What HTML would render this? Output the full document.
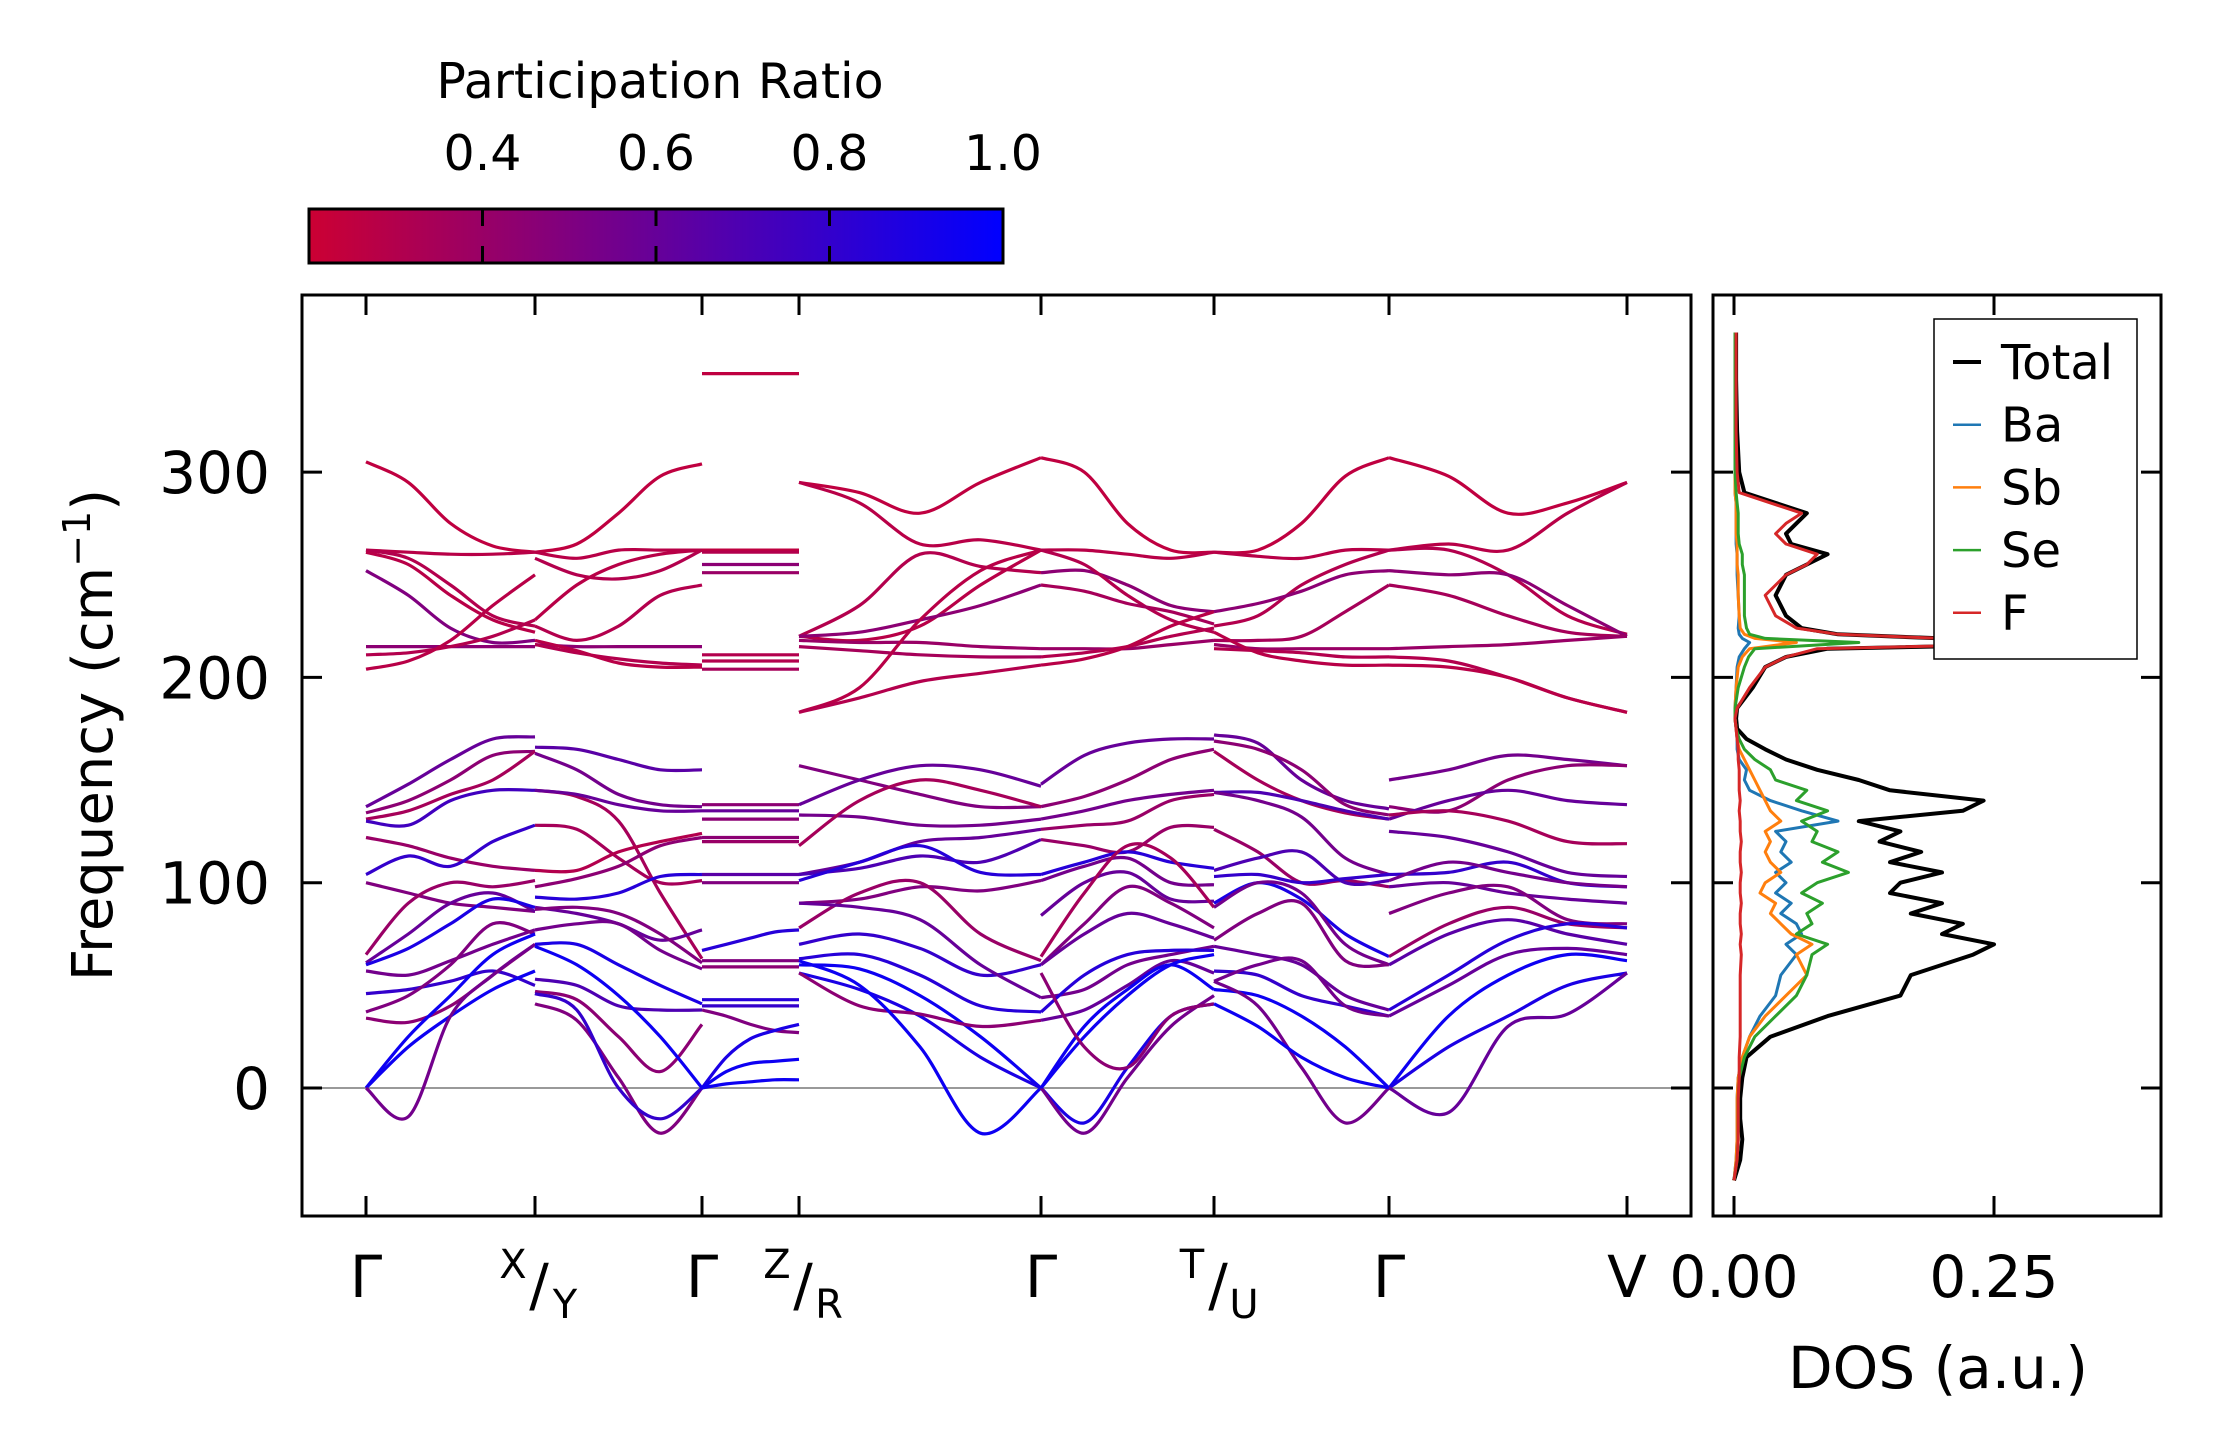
<!DOCTYPE html>
<html><head><meta charset="utf-8"><style>
html,body{margin:0;padding:0;background:#fff}
svg{display:block;font-family:"DejaVu Sans","Liberation Sans",sans-serif}
</style></head><body>
<svg id="fig" width="2222" height="1455" viewBox="0 0 2222 1455" xmlns="http://www.w3.org/2000/svg">
<defs>
<linearGradient id="cmap" x1="0" x2="1" y1="0" y2="0">
<stop offset="0" stop-color="#cc0033"/><stop offset="1" stop-color="#0000ff"/>
</linearGradient>
<clipPath id="mainclip"><rect x="302" y="295" width="1389" height="921"/></clipPath>
<clipPath id="dosclip"><rect x="1713" y="295" width="448" height="921"/></clipPath>
</defs>
<g id="colorbar">
<text x="660" y="98" font-size="49" text-anchor="middle">Participation Ratio</text>
<rect x="309" y="209" width="694" height="54" fill="url(#cmap)" stroke="#000" stroke-width="3"/>
</g>
<g id="main"></g>
<g id="dos"></g>
</svg>
<script>
// ---- band structure data ----
const kTicks = [366,535,702,799,1041,1214,1389,1627];
const kLabels = ["Γ","X/Y","Γ","Z/R","Γ","T/U","Γ","V"];
const yTicks = [0,100,200,300];
const cbTicks = [0.4,0.6,0.8,1.0];
const segBounds = [[366,535],[535,702],[702,799],[799,1041],[1041,1214],[1214,1389],[1389,1627]];

const seg1Freq = [[305,295,275,264,261],[262,261,260,260,261],[262,258,245,230,225],[261,255,240,228,222],[252,240,224,217,218],[215,215,215,215,215],[211,212,215,220,228],[204,208,218,235,250],
[137,148,160,170,171],[134,140,150,162,164],[131,135,143,150,164],[130,128,140,145,145],[122,118,112,108,106],[104,113,108,120,128],[100,95,90,88,86],[65,90,100,98,101],[61,75,90,95,86],[60,68,80,92,88],[57,55,62,70,77],[46,48,52,57,50],[37,45,60,80,75],[34,32,40,55,70],[0,25,45,65,75],[0,20,35,48,57],[0,-14,35,55,70]];
const seg1PR = [.25,.28,.3,.28,.5,.45,.3,.28,.6,.45,.35,.75,.4,.8,.5,.4,.6,.9,.55,.8,.5,.45,.95,.95,.55];

const seg2Freq = [[261,265,280,298,304],[261,258,262,262,262],[258,250,248,252,262],[228,245,255,260,262],[225,218,225,240,245],[216,215,215,215,215],[216,212,209,207,206],[218,213,207,205,205],
[166,165,160,155,155],[163,155,143,138,137],[145,142,130,95,63],[145,143,138,135,135],[128,126,112,100,101],[106,106,115,120,124],[98,102,108,118,122],[93,92,95,103,104],[88,85,80,72,77],[87,88,85,75,61],[77,80,80,67,58],[70,70,60,50,41],[53,50,40,38,38],[47,43,25,8,31],[41,33,5,-22,0],[46,38,0,-15,0],[69,60,45,25,0]];
const seg2PR = [.25,.28,.3,.28,.3,.45,.3,.28,.65,.55,.35,.6,.35,.3,.45,.85,.6,.5,.55,.9,.7,.45,.5,.8,.95];

const seg3Freq = [[348,348,348,348,348],[262,262,262,262,262],[261,261,261,261,261],[255,255,255,255,255],[251,251,251,251,251],[211,211,211,211,211],[208,208,208,208,208],[204,204,204,204,204],
[138,138,138,138,138],[135,135,135,135,135],[131,131,131,131,131],[122,122,122,122,122],[120,120,120,120,120],[104,104,104,104,104],[100,100,100,100,100],[67,70,73,76,77],[62,62,62,62,62],[59,59,59,59,59],[43,43,43,43,43],[40,40,40,40,40],[38,35,31,28,27],[0,15,24,28,31],[0,8,12,13,14],[0,2,3,4,4]];
const seg3PR = [.25,.25,.3,.45,.4,.3,.3,.35,.45,.6,.45,.45,.4,.65,.5,.85,.5,.45,.85,.8,.5,.9,.95,.95];

const seg4Freq = [[295,290,280,295,307],[295,285,265,267,262],[220,235,260,254,251],[220,218,225,245,262],[220,222,228,235,245],[218,217,217,215,214],[215,213,211,210,210],[183,195,228,252,262],[183,190,198,202,206],
[157,150,143,137,137],[138,150,157,155,147],[133,132,128,128,131],[118,140,150,145,137],[104,110,120,122,126],[104,107,113,110,121],[101,110,118,105,104],[90,92,98,96,101],[78,95,100,75,62],[70,75,68,55,60],[63,65,55,40,37],[60,58,45,25,0],[56,48,35,15,0],[56,40,36,30,33],[90,88,82,60,44],[62,50,20,-22,0]];
const seg4PR = [.25,.28,.3,.28,.45,.4,.35,.28,.3,.5,.6,.55,.35,.6,.7,.85,.5,.4,.8,.85,.95,.9,.45,.6,.95];

const seg5Freq = [[307,300,275,262,261],[262,262,260,258,261],[251,252,245,235,232],[262,255,240,228,222],[245,242,236,232,226],[214,214,214,216,218],[210,212,215,220,224],[206,209,215,225,232],
[148,162,168,170,170],[137,142,150,160,165],[131,135,140,143,145],[126,128,130,140,143],[121,118,115,127,127],[104,110,115,110,107],[101,108,112,100,99],[84,100,105,92,91],[64,95,118,112,88],[60,80,98,90,78],[60,75,85,80,73],[44,48,60,65,69],[37,55,65,67,67],[33,38,50,62,56],[0,30,48,60,48],[0,-17,10,35,41],[0,-22,5,30,45],[0,25,45,60,65],[56,20,10,35,41]];
const seg5PR = [.25,.28,.45,.3,.35,.4,.3,.28,.6,.45,.55,.4,.4,.85,.55,.6,.35,.5,.6,.55,.85,.6,.95,.9,.55,.95,.45];

const seg6Freq = [[261,262,275,298,307],[261,259,258,262,262],[225,230,245,255,262],[232,236,242,250,252],[218,218,220,232,245],[216,214,214,214,214],[214,213,212,210,210],[222,212,208,206,206],
[172,168,150,140,136],[169,165,155,138,133],[164,150,140,134,131],[144,144,140,135,131],[144,140,132,112,104],[126,115,100,101,98],[106,112,115,100,101],[103,104,100,102,104],[90,100,92,75,64],[88,100,95,70,60],[72,85,90,62,60],[69,65,60,45,38],[57,55,45,40,35],[52,60,62,40,35],[48,45,35,20,0],[52,40,10,-17,0],[41,30,15,5,0]];
const seg6PR = [.25,.28,.3,.45,.35,.4,.3,.28,.6,.45,.35,.7,.55,.4,.7,.8,.9,.55,.5,.6,.8,.55,.95,.55,.95];

const seg7Freq = [[307,298,280,285,295],[262,265,262,280,295],[262,262,250,230,221],[252,250,250,235,220],[245,240,230,222,220],[214,215,216,218,220],[210,208,200,190,183],[206,205,200,190,183],
[150,155,162,160,157],[137,135,150,157,157],[131,140,145,140,138],[133,135,130,120,119],[125,122,115,105,103],[104,105,110,100,98],[101,110,105,100,98],[98,100,95,92,90],[85,95,98,82,80],[64,80,88,80,78],[60,75,82,75,70],[38,55,72,80,78],[35,50,65,68,65],[0,35,55,65,62],[0,20,35,50,56],[0,-12,30,36,56]];
const seg7PR = [.25,.28,.3,.45,.35,.4,.3,.28,.55,.45,.6,.35,.6,.8,.55,.6,.5,.4,.65,.85,.6,.95,.9,.6];

const segFreqs = [seg1Freq,seg2Freq,seg3Freq,seg4Freq,seg5Freq,seg6Freq,seg7Freq];
const segPRs = [seg1PR,seg2PR,seg3PR,seg4PR,seg5PR,seg6PR,seg7PR];

// ---- DOS data ----
const dosFreq  = [-45,-35,-25,-15,-5,5,15,25,35,45,55,65,70,75,80,85,90,95,100,105,110,115,120,125,130,135,140,145,150,155,160,165,170,175,180,185,195,205,210,214,217,219,221,224,230,240,250,255,260,265,270,275,280,285,290,300,320,345,368];
const dosTotal = [0,.006,.008,.006,.006,.008,.012,.035,.09,.16,.17,.23,.25,.2,.22,.17,.2,.15,.16,.2,.15,.18,.14,.16,.12,.22,.24,.15,.12,.08,.05,.03,.012,.003,.002,.003,.018,.03,.05,.09,.38,.2,.1,.065,.05,.04,.05,.07,.09,.055,.05,.06,.07,.04,.01,.005,.003,.002,.002];
const dosBa    = [0,.002,.003,.003,.003,.004,.008,.015,.025,.04,.045,.06,.05,.065,.06,.045,.055,.04,.05,.04,.055,.045,.05,.04,.1,.065,.035,.015,.01,.012,.005,.003,.003,.002,.001,.001,.002,.003,.005,.01,.015,.008,.005,.004,.005,.004,.003,.003,.003,.002,.002,.002,.002,.002,.001,.001,.001,.001,.001];
const dosSb    = [0,.002,.003,.003,.003,.004,.008,.015,.03,.05,.07,.06,.075,.055,.045,.035,.04,.025,.03,.045,.035,.03,.035,.03,.045,.035,.03,.025,.02,.015,.01,.005,.003,.002,.001,.001,.002,.004,.008,.015,.06,.02,.01,.006,.005,.004,.004,.003,.003,.003,.002,.002,.002,.002,.001,.001,.001,.001,.001];
const dosSe    = [0,.003,.004,.004,.004,.005,.01,.02,.04,.06,.07,.075,.09,.06,.075,.07,.085,.065,.08,.11,.085,.1,.075,.08,.065,.09,.06,.07,.04,.035,.02,.01,.005,.002,.001,.001,.004,.01,.014,.02,.12,.03,.015,.012,.01,.01,.01,.008,.008,.005,.004,.004,.004,.003,.002,.001,.001,.001,.001];
const dosF     = [0,.003,.004,.004,.004,.005,.005,.006,.006,.006,.006,.007,.006,.007,.006,.006,.007,.006,.006,.007,.006,.006,.007,.006,.006,.005,.006,.005,.005,.005,.004,.004,.003,.002,.001,.003,.015,.03,.05,.08,.35,.2,.1,.06,.04,.03,.05,.07,.08,.05,.04,.05,.065,.035,.005,.003,.002,.002,.002];
const dosTicks = [0,0.25];
const dosTickLabels = ["0.00","0.25"];
const legendNames = ["Total","Ba","Sb","Se","F"];
const legendColors = ["#000000","#1f77b4","#ff7f0e","#2ca02c","#d62728"];

// ---- axes ----
const NS = "http://www.w3.org/2000/svg";
const AX = {l:302, r:1691, t:295, b:1216};
const DX = {l:1713, r:2161, t:295, b:1216};
const yOf = f => 1088 - f*2.053;
const dosX = d => 1734 + d*1040;
const cbX = v => 309 + (v-0.2)/0.8*694;
function prColor(p){const t=Math.max(0,Math.min(1,(p-0.2)/0.8));return `rgb(${Math.round(204*(1-t))},0,${Math.round(51+204*t)})`;}
function el(tag, attrs, parent){const e=document.createElementNS(NS,tag);for(const k in attrs)e.setAttribute(k,attrs[k]);parent.appendChild(e);return e;}
function catmull(pts){let d=`M${pts[0][0].toFixed(1)},${pts[0][1].toFixed(1)}`;
  for(let i=0;i<pts.length-1;i++){const p0=pts[Math.max(0,i-1)],p1=pts[i],p2=pts[i+1],p3=pts[Math.min(pts.length-1,i+2)];
    const c1=[p1[0]+(p2[0]-p0[0])/6,p1[1]+(p2[1]-p0[1])/6],c2=[p2[0]-(p3[0]-p1[0])/6,p2[1]-(p3[1]-p1[1])/6];
    d+=`C${c1[0].toFixed(1)},${c1[1].toFixed(1)} ${c2[0].toFixed(1)},${c2[1].toFixed(1)} ${p2[0].toFixed(1)},${p2[1].toFixed(1)}`;}
  return d;}

const main = document.getElementById('main');
const dos = document.getElementById('dos');
const cb = document.getElementById('colorbar');

// colorbar ticks & labels
cbTicks.forEach(v=>{
  if(v<1){
    const t1=el('line',{x1:cbX(v),x2:cbX(v),y1:209,y2:226,stroke:'#000','stroke-width':3},cb);
    
    
    const t2=el('line',{x1:cbX(v),x2:cbX(v),y1:246,y2:263,stroke:'#000','stroke-width':3},cb);
    
    
  }
  const tx=el('text',{x:cbX(v),y:170,'font-size':49,'text-anchor':'middle'},cb);
  tx.textContent=v.toFixed(1);
  
  
});

// zero line
const z=el('line',{x1:AX.l,x2:AX.r,y1:yOf(0),y2:yOf(0),stroke:'#999','stroke-width':2},main);



// bands
const bandG=el('g',{'clip-path':'url(#mainclip)',fill:'none','stroke-width':3.2},main);


segFreqs.forEach((seg,si)=>{
  const [x0,x1]=segBounds[si];
  seg.forEach((vals,bi)=>{
    const n=vals.length;
    const pts=vals.map((f,i)=>[x0+(x1-x0)*i/(n-1), yOf(f)]);
    const p=el('path',{d:catmull(pts),stroke:prColor(segPRs[si][bi])},bandG);
    
    
  });
});

// main frame
const fr=el('rect',{x:AX.l,y:AX.t,width:AX.r-AX.l,height:AX.b-AX.t,fill:'none',stroke:'#000','stroke-width':3},main);



// y ticks
yTicks.forEach(v=>{
  const y=yOf(v);
  [[AX.l,AX.l+20,main],[AX.r-20,AX.r,main],[DX.l,DX.l+20,dos],[DX.r-20,DX.r,dos]].forEach(([a,b,g])=>{
    const t=el('line',{x1:a,x2:b,y1:y,y2:y,stroke:'#000','stroke-width':3},g);
    
    
  });
  const tx=el('text',{x:270,y:y+21,'font-size':58,'text-anchor':'end'},main);
  tx.textContent=String(v);
  
  
});

// x ticks & labels
kTicks.forEach((x,i)=>{
  [[AX.t,AX.t+20],[AX.b-20,AX.b]].forEach(([a,b])=>{
    const t=el('line',{x1:x,x2:x,y1:a,y2:b,stroke:'#000','stroke-width':3},main);
    
    
  });
  const lab=kLabels[i];
  if(lab.includes('/')){
    const [a,b]=lab.split('/');
    const t1=el('text',{x:x-22,y:1278,'font-size':40,'text-anchor':'middle'},main);
    t1.textContent=a;
    
    
    const t2=el('text',{x:x+4,y:1305,'font-size':58,'text-anchor':'middle'},main);
    t2.textContent='/';
    
    
    const t3=el('text',{x:x+30,y:1318,'font-size':40,'text-anchor':'middle'},main);
    t3.textContent=b;
    
    
  } else {
    const t=el('text',{x:x,y:1297,'font-size':58,'text-anchor':'middle'},main);
    t.textContent=lab;
    
    
  }
});

// y-axis title
const yt=el('text',{x:0,y:0,'font-size':56,'text-anchor':'middle',transform:'translate(112,735) rotate(-90)'},main);


yt.appendChild(document.createTextNode('Frequency (cm'));
const sup=el('tspan',{'font-size':38,dy:-22},yt);sup.textContent='−1';
const cl=el('tspan',{'font-size':56,dy:22},yt);cl.textContent=')';

// DOS curves
const dosG=el('g',{'clip-path':'url(#dosclip)',fill:'none'},dos);


const dosSeries=[dosTotal,dosBa,dosSb,dosSe,dosF];
dosSeries.forEach((vals,si)=>{
  const pts=vals.map((d,i)=>`${dosX(d).toFixed(1)},${yOf(dosFreq[i]).toFixed(1)}`).join(' ');
  const pl=el('polyline',{points:pts,stroke:legendColors[si],'stroke-width':si===0?4:3,'stroke-linejoin':'round'},dosG);
  
  
});
const dfr=el('rect',{x:DX.l,y:DX.t,width:DX.r-DX.l,height:DX.b-DX.t,fill:'none',stroke:'#000','stroke-width':3},dos);


dosTicks.forEach((v,i)=>{
  const x=dosX(v);
  [[DX.t,DX.t+20],[DX.b-20,DX.b]].forEach(([a,b])=>{
    const t=el('line',{x1:x,x2:x,y1:a,y2:b,stroke:'#000','stroke-width':3},dos);
    
    
  });
  const tx=el('text',{x:x,y:1297,'font-size':58,'text-anchor':'middle'},dos);
  tx.textContent=dosTickLabels[i];
  
  
});
const dt=el('text',{x:1938,y:1388,'font-size':58,'text-anchor':'middle'},dos);
dt.textContent='DOS (a.u.)';



// legend
const lg=el('g',{},dos);


const lr=el('rect',{x:1934,y:319,width:203,height:340,fill:'#fff',stroke:'#000','stroke-width':1.5},lg);


legendNames.forEach((nm,i)=>{
  const y=362+i*62.7;
  const ln=el('line',{x1:1953,x2:1981,y1:y,y2:y,stroke:legendColors[i],'stroke-width':i===0?4:2.5},lg);
  
  
  const tx=el('text',{x:2001,y:y+17,'font-size':48},lg);
  tx.textContent=nm;
  
  
});
</script>
</body></html>
